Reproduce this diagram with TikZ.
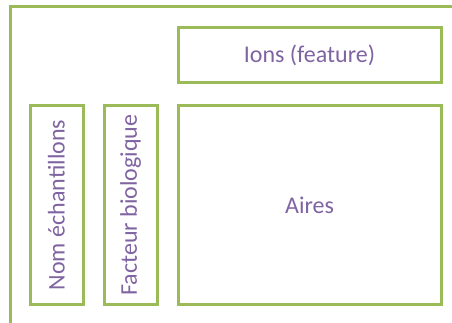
\documentclass[tikz,border=0pt]{standalone}
\usepackage{fontspec}
\setmainfont{Carlito}
\usetikzlibrary{positioning}
\definecolor{cFrame}{HTML}{9BBB59}
\definecolor{cText}{HTML}{8064A2}
\tikzset{
  box/.style={draw=cFrame, line width=3pt, text=cText, inner sep=0pt,
              outer sep=0pt, font=\fontsize{24}{28}\selectfont},
  colbox/.style={box, minimum width=53pt, minimum height=198pt},
  rowbox/.style={box, minimum width=263pt},
}

\begin{document}
\begin{tikzpicture}[x=1pt, y=-1pt, node distance=21pt]
  \useasboundingbox (0,0) rectangle (452,323);
  \clip (0,0) rectangle (452,323);
  % outer frame, runs off the right and bottom edges
  \draw[cFrame, line width=3pt] (10,7) rectangle (490,360);

  \node[rowbox, minimum height=198pt] (aires) at (309.5,205) {Aires};
  \node[rowbox, minimum height=55pt, above=23pt of aires] (ions) {Ions (feature)};
  \node[colbox, left=of aires] (fact) {\rotatebox{90}{Facteur biologique}};
  \node[colbox, left=of fact] (nom) {\rotatebox{90}{Nom échantillons}};
\end{tikzpicture}
\end{document}
